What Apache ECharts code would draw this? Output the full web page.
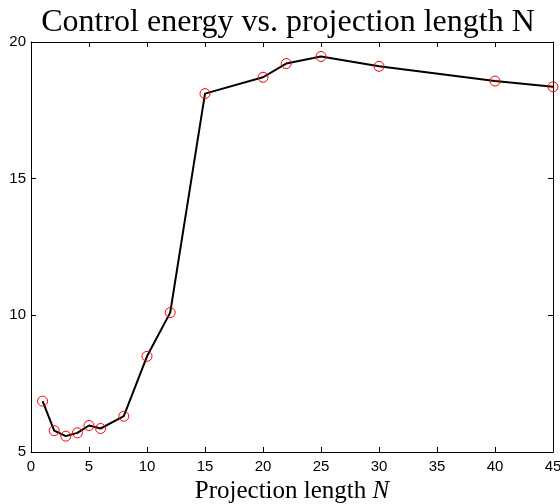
<!DOCTYPE html>
<html>
<head>
<meta charset="utf-8">
<script src="https://cdn.jsdelivr.net/npm/echarts@6/dist/echarts.min.js"></script>
<style>
  html, body { margin: 0; padding: 0; background: #fff; }
  #chart { width: 560px; height: 504px; }
</style>
</head>
<body>
<div id="chart"></div>
<script>
// 투영 길이 N 과 제어 에너지 값
var lengthN = [1, 2, 3, 4, 5, 6, 8, 10, 12, 15, 20, 22, 25, 30, 40, 45];
var energy = [6.86, 5.78, 5.58, 5.70, 5.97, 5.86, 6.31, 8.50, 10.10, 18.11, 18.71, 19.21, 19.47, 19.11, 18.57, 18.36];
var xTicks = [0, 5, 10, 15, 20, 25, 30, 35, 40, 45];
var yTicks = [5, 10, 15, 20];

var chart = echarts.init(document.getElementById('chart'), null, { renderer: 'canvas' });

var points = lengthN.map(function (n, i) { return [n, energy[i]]; });

// 축마다 새 객체를 만들어야 스타일이 섞이지 않음
function tickStyle() {
  return { show: true, inside: true, length: 5, lineStyle: { color: '#000', width: 1 } };
}
function axisLineStyle() {
  return { show: true, onZero: false, lineStyle: { color: '#000', width: 1 } };
}

var option = {
  backgroundColor: '#fff',
  animation: false,
  title: {
    text: 'Control energy vs. projection length N',
    left: 283,
    textAlign: 'center',
    top: 2,
    textStyle: { fontFamily: 'Liberation Serif', fontWeight: 'normal', fontSize: 32, color: '#000' }
  },
  grid: { left: 31, right: 7, top: 42, bottom: 52, containLabel: false, outerBoundsMode: 'none' },
  xAxis: [
    {
      type: 'value', min: xTicks[0], max: xTicks[xTicks.length - 1], interval: 5, position: 'bottom',
      axisLine: axisLineStyle(), axisTick: tickStyle(), splitLine: { show: false },
      axisLabel: { color: '#000', fontFamily: 'Liberation Sans', fontSize: 15, margin: 7 },
      name: '{n|Projection length }{i|N}',
      nameLocation: 'middle', nameGap: 25,
      nameTextStyle: {
        rich: {
          n: { fontFamily: 'Liberation Serif', fontSize: 25, color: '#000' },
          i: { fontFamily: 'Liberation Serif', fontStyle: 'italic', fontSize: 25, color: '#000' }
        }
      }
    },
    {
      type: 'value', min: xTicks[0], max: xTicks[xTicks.length - 1], interval: 5, position: 'top',
      axisLine: axisLineStyle(), axisTick: tickStyle(), axisLabel: { show: false }, splitLine: { show: false }
    }
  ],
  yAxis: [
    {
      type: 'value', min: yTicks[0], max: yTicks[yTicks.length - 1], interval: 5, position: 'left',
      axisLine: axisLineStyle(), axisTick: tickStyle(), splitLine: { show: false },
      axisLabel: { color: '#000', fontFamily: 'Liberation Sans', fontSize: 15, margin: 5 }
    },
    {
      type: 'value', min: yTicks[0], max: yTicks[yTicks.length - 1], interval: 5, position: 'right',
      axisLine: axisLineStyle(), axisTick: tickStyle(), axisLabel: { show: false }, splitLine: { show: false }
    }
  ],
  series: [
    {
      type: 'line',
      data: points,
      symbol: 'circle',
      symbolSize: 10,
      lineStyle: { color: '#000', width: 2 },
      itemStyle: { color: 'rgba(0,0,0,0)', borderColor: '#ff0000', borderWidth: 1 },
      clip: false
    }
  ]
};

chart.setOption(option);
</script>
</body>
</html>
